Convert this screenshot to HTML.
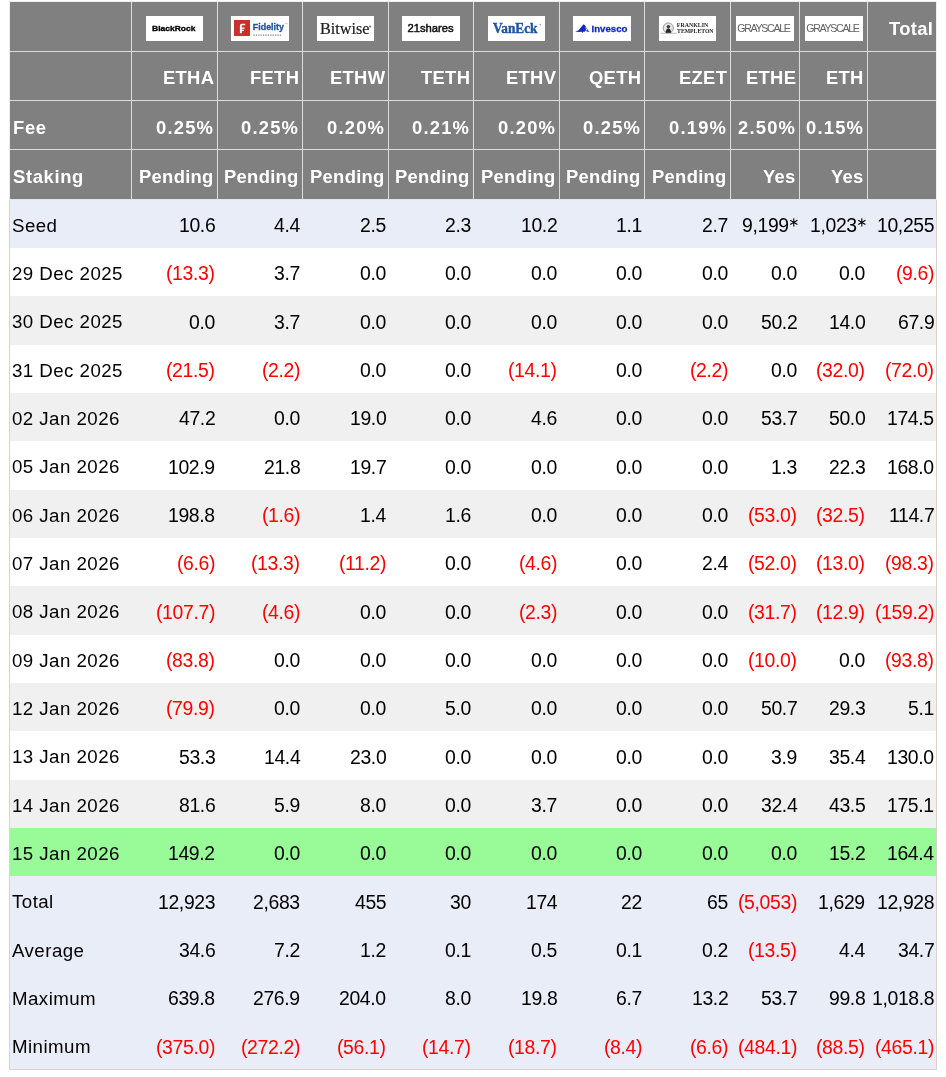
<!DOCTYPE html><html><head><meta charset="utf-8"><style>
html,body{margin:0;padding:0;background:#fff;width:946px;height:1077px;overflow:hidden;}
body{position:relative;font-family:"Liberation Sans",sans-serif;}
.t,.lg{will-change:transform;}
.r{position:absolute;}
.t{position:absolute;white-space:nowrap;}
.b{font-size:18.7px;color:#000;}
.lb{letter-spacing:0.45px;}
.n{color:#f00;}
.nm{font-size:19.4px;letter-spacing:-0.35px;}
.ast{display:inline-block;position:relative;width:7.6px;height:0;margin-left:1px;}
.ast svg{position:absolute;left:0;top:-13.8px;}
.h{font-size:18.4px;color:#fff;font-weight:bold;letter-spacing:0.3px;}
.pc{letter-spacing:1.2px;}
.hl{letter-spacing:0.65px;}
.lg{position:absolute;background:#fff;overflow:hidden;}
.lg svg{position:absolute;left:0;top:0;}
</style></head><body>
<div class="r" style="left:9px;top:1px;width:928px;height:1069px;background:#d9d4c7"></div>
<div class="r" style="left:9px;top:1px;width:928px;height:199px;background:#eeeeee"></div>
<div class="r" style="left:10px;top:2px;width:926px;height:197px;background:#808080"></div>
<div class="r" style="left:10px;top:51px;width:926px;height:1px;background:#dcdcdc"></div>
<div class="r" style="left:10px;top:100px;width:926px;height:1px;background:#dcdcdc"></div>
<div class="r" style="left:10px;top:149px;width:926px;height:1px;background:#dcdcdc"></div>
<div class="r" style="left:10px;top:199px;width:926px;height:1px;background:#e4e4e4"></div>
<div class="r" style="left:131px;top:2px;width:1px;height:197px;background:#dcdcdc"></div>
<div class="r" style="left:217px;top:2px;width:1px;height:197px;background:#dcdcdc"></div>
<div class="r" style="left:302px;top:2px;width:1px;height:197px;background:#dcdcdc"></div>
<div class="r" style="left:388px;top:2px;width:1px;height:197px;background:#dcdcdc"></div>
<div class="r" style="left:473px;top:2px;width:1px;height:197px;background:#dcdcdc"></div>
<div class="r" style="left:559px;top:2px;width:1px;height:197px;background:#dcdcdc"></div>
<div class="r" style="left:644px;top:2px;width:1px;height:197px;background:#dcdcdc"></div>
<div class="r" style="left:730px;top:2px;width:1px;height:197px;background:#dcdcdc"></div>
<div class="r" style="left:799px;top:2px;width:1px;height:197px;background:#dcdcdc"></div>
<div class="r" style="left:867px;top:2px;width:1px;height:197px;background:#dcdcdc"></div>
<div class="r" style="left:10px;top:200px;width:926px;height:48px;background:#e9edf8"></div>
<div class="r" style="left:10px;top:248px;width:926px;height:48px;background:#ffffff"></div>
<div class="r" style="left:10px;top:296px;width:926px;height:49px;background:#f0f0f0"></div>
<div class="r" style="left:10px;top:345px;width:926px;height:48px;background:#ffffff"></div>
<div class="r" style="left:10px;top:393px;width:926px;height:48px;background:#f0f0f0"></div>
<div class="r" style="left:10px;top:441px;width:926px;height:49px;background:#ffffff"></div>
<div class="r" style="left:10px;top:490px;width:926px;height:48px;background:#f0f0f0"></div>
<div class="r" style="left:10px;top:538px;width:926px;height:48px;background:#ffffff"></div>
<div class="r" style="left:10px;top:586px;width:926px;height:49px;background:#f0f0f0"></div>
<div class="r" style="left:10px;top:635px;width:926px;height:48px;background:#ffffff"></div>
<div class="r" style="left:10px;top:683px;width:926px;height:48px;background:#f0f0f0"></div>
<div class="r" style="left:10px;top:731px;width:926px;height:49px;background:#ffffff"></div>
<div class="r" style="left:10px;top:780px;width:926px;height:48px;background:#f0f0f0"></div>
<div class="r" style="left:10px;top:828px;width:926px;height:48px;background:#99fb98"></div>
<div class="r" style="left:10px;top:876px;width:926px;height:48px;background:#e9edf8"></div>
<div class="r" style="left:10px;top:924px;width:926px;height:48px;background:#e9edf8"></div>
<div class="r" style="left:10px;top:972px;width:926px;height:49px;background:#e9edf8"></div>
<div class="r" style="left:10px;top:1021px;width:926px;height:48px;background:#e9edf8"></div>
<div class="t h" style="right:732.00px;top:53.80px;height:48px;line-height:48px;">ETHA</div>
<div class="t h" style="right:647.00px;top:53.80px;height:48px;line-height:48px;">FETH</div>
<div class="t h" style="right:561.00px;top:53.80px;height:48px;line-height:48px;">ETHW</div>
<div class="t h" style="right:476.00px;top:53.80px;height:48px;line-height:48px;">TETH</div>
<div class="t h" style="right:390.00px;top:53.80px;height:48px;line-height:48px;">ETHV</div>
<div class="t h" style="right:305.00px;top:53.80px;height:48px;line-height:48px;">QETH</div>
<div class="t h" style="right:219.00px;top:53.80px;height:48px;line-height:48px;">EZET</div>
<div class="t h" style="right:150.00px;top:53.80px;height:48px;line-height:48px;">ETHE</div>
<div class="t h" style="right:82.00px;top:53.80px;height:48px;line-height:48px;">ETH</div>
<div class="t h hl" style="left:12.80px;top:103.80px;height:48px;line-height:48px;">Fee</div>
<div class="t h pc" style="right:731.90px;top:103.80px;height:48px;line-height:48px;">0.25%</div>
<div class="t h pc" style="right:646.90px;top:103.80px;height:48px;line-height:48px;">0.25%</div>
<div class="t h pc" style="right:560.90px;top:103.80px;height:48px;line-height:48px;">0.20%</div>
<div class="t h pc" style="right:475.90px;top:103.80px;height:48px;line-height:48px;">0.21%</div>
<div class="t h pc" style="right:389.90px;top:103.80px;height:48px;line-height:48px;">0.20%</div>
<div class="t h pc" style="right:304.90px;top:103.80px;height:48px;line-height:48px;">0.25%</div>
<div class="t h pc" style="right:218.90px;top:103.80px;height:48px;line-height:48px;">0.19%</div>
<div class="t h pc" style="right:149.90px;top:103.80px;height:48px;line-height:48px;">2.50%</div>
<div class="t h pc" style="right:81.90px;top:103.80px;height:48px;line-height:48px;">0.15%</div>
<div class="t h hl" style="left:12.80px;top:152.00px;height:49px;line-height:49px;">Staking</div>
<div class="t h" style="right:732.00px;top:152.00px;height:49px;line-height:49px;">Pending</div>
<div class="t h" style="right:647.00px;top:152.00px;height:49px;line-height:49px;">Pending</div>
<div class="t h" style="right:561.00px;top:152.00px;height:49px;line-height:49px;">Pending</div>
<div class="t h" style="right:476.00px;top:152.00px;height:49px;line-height:49px;">Pending</div>
<div class="t h" style="right:390.00px;top:152.00px;height:49px;line-height:49px;">Pending</div>
<div class="t h" style="right:305.00px;top:152.00px;height:49px;line-height:49px;">Pending</div>
<div class="t h" style="right:219.00px;top:152.00px;height:49px;line-height:49px;">Pending</div>
<div class="t h" style="right:150.00px;top:152.00px;height:49px;line-height:49px;">Yes</div>
<div class="t h" style="right:82.00px;top:152.00px;height:49px;line-height:49px;">Yes</div>
<div class="t h" style="right:12.80px;top:4.00px;height:49px;line-height:49px;">Total</div>
<div class="t b lb" style="left:11.90px;top:201.80px;height:48px;line-height:48px;">Seed</div>
<div class="t b nm" style="right:731.10px;top:201.00px;height:48px;line-height:48px;">10.6</div>
<div class="t b nm" style="right:646.10px;top:201.00px;height:48px;line-height:48px;">4.4</div>
<div class="t b nm" style="right:560.10px;top:201.00px;height:48px;line-height:48px;">2.5</div>
<div class="t b nm" style="right:475.10px;top:201.00px;height:48px;line-height:48px;">2.3</div>
<div class="t b nm" style="right:389.10px;top:201.00px;height:48px;line-height:48px;">10.2</div>
<div class="t b nm" style="right:304.10px;top:201.00px;height:48px;line-height:48px;">1.1</div>
<div class="t b nm" style="right:218.10px;top:201.00px;height:48px;line-height:48px;">2.7</div>
<div class="t b nm" style="right:149.10px;top:201.00px;height:48px;line-height:48px;">9,199<span class="ast"><svg width="8" height="9" viewBox="0 0 8 9"><path d="M3.8 0.2V8.6M0.15 2.3L7.45 6.5M0.15 6.5L7.45 2.3" stroke="#000" stroke-width="1.05"/></svg></span></div>
<div class="t b nm" style="right:81.10px;top:201.00px;height:48px;line-height:48px;">1,023<span class="ast"><svg width="8" height="9" viewBox="0 0 8 9"><path d="M3.8 0.2V8.6M0.15 2.3L7.45 6.5M0.15 6.5L7.45 2.3" stroke="#000" stroke-width="1.05"/></svg></span></div>
<div class="t b nm" style="right:12.10px;top:201.00px;height:48px;line-height:48px;">10,255</div>
<div class="t b lb" style="left:11.90px;top:250.13px;height:48px;line-height:48px;">29 Dec 2025</div>
<div class="t b nm n" style="right:731.10px;top:249.33px;height:48px;line-height:48px;">(13.3)</div>
<div class="t b nm" style="right:646.10px;top:249.33px;height:48px;line-height:48px;">3.7</div>
<div class="t b nm" style="right:560.10px;top:249.33px;height:48px;line-height:48px;">0.0</div>
<div class="t b nm" style="right:475.10px;top:249.33px;height:48px;line-height:48px;">0.0</div>
<div class="t b nm" style="right:389.10px;top:249.33px;height:48px;line-height:48px;">0.0</div>
<div class="t b nm" style="right:304.10px;top:249.33px;height:48px;line-height:48px;">0.0</div>
<div class="t b nm" style="right:218.10px;top:249.33px;height:48px;line-height:48px;">0.0</div>
<div class="t b nm" style="right:149.10px;top:249.33px;height:48px;line-height:48px;">0.0</div>
<div class="t b nm" style="right:81.10px;top:249.33px;height:48px;line-height:48px;">0.0</div>
<div class="t b nm n" style="right:12.10px;top:249.33px;height:48px;line-height:48px;">(9.6)</div>
<div class="t b lb" style="left:11.90px;top:298.47px;height:48px;line-height:48px;">30 Dec 2025</div>
<div class="t b nm" style="right:731.10px;top:297.67px;height:48px;line-height:48px;">0.0</div>
<div class="t b nm" style="right:646.10px;top:297.67px;height:48px;line-height:48px;">3.7</div>
<div class="t b nm" style="right:560.10px;top:297.67px;height:48px;line-height:48px;">0.0</div>
<div class="t b nm" style="right:475.10px;top:297.67px;height:48px;line-height:48px;">0.0</div>
<div class="t b nm" style="right:389.10px;top:297.67px;height:48px;line-height:48px;">0.0</div>
<div class="t b nm" style="right:304.10px;top:297.67px;height:48px;line-height:48px;">0.0</div>
<div class="t b nm" style="right:218.10px;top:297.67px;height:48px;line-height:48px;">0.0</div>
<div class="t b nm" style="right:149.10px;top:297.67px;height:48px;line-height:48px;">50.2</div>
<div class="t b nm" style="right:81.10px;top:297.67px;height:48px;line-height:48px;">14.0</div>
<div class="t b nm" style="right:12.10px;top:297.67px;height:48px;line-height:48px;">67.9</div>
<div class="t b lb" style="left:11.90px;top:346.80px;height:48px;line-height:48px;">31 Dec 2025</div>
<div class="t b nm n" style="right:731.10px;top:346.00px;height:48px;line-height:48px;">(21.5)</div>
<div class="t b nm n" style="right:646.10px;top:346.00px;height:48px;line-height:48px;">(2.2)</div>
<div class="t b nm" style="right:560.10px;top:346.00px;height:48px;line-height:48px;">0.0</div>
<div class="t b nm" style="right:475.10px;top:346.00px;height:48px;line-height:48px;">0.0</div>
<div class="t b nm n" style="right:389.10px;top:346.00px;height:48px;line-height:48px;">(14.1)</div>
<div class="t b nm" style="right:304.10px;top:346.00px;height:48px;line-height:48px;">0.0</div>
<div class="t b nm n" style="right:218.10px;top:346.00px;height:48px;line-height:48px;">(2.2)</div>
<div class="t b nm" style="right:149.10px;top:346.00px;height:48px;line-height:48px;">0.0</div>
<div class="t b nm n" style="right:81.10px;top:346.00px;height:48px;line-height:48px;">(32.0)</div>
<div class="t b nm n" style="right:12.10px;top:346.00px;height:48px;line-height:48px;">(72.0)</div>
<div class="t b lb" style="left:11.90px;top:395.13px;height:48px;line-height:48px;">02 Jan 2026</div>
<div class="t b nm" style="right:731.10px;top:394.33px;height:48px;line-height:48px;">47.2</div>
<div class="t b nm" style="right:646.10px;top:394.33px;height:48px;line-height:48px;">0.0</div>
<div class="t b nm" style="right:560.10px;top:394.33px;height:48px;line-height:48px;">19.0</div>
<div class="t b nm" style="right:475.10px;top:394.33px;height:48px;line-height:48px;">0.0</div>
<div class="t b nm" style="right:389.10px;top:394.33px;height:48px;line-height:48px;">4.6</div>
<div class="t b nm" style="right:304.10px;top:394.33px;height:48px;line-height:48px;">0.0</div>
<div class="t b nm" style="right:218.10px;top:394.33px;height:48px;line-height:48px;">0.0</div>
<div class="t b nm" style="right:149.10px;top:394.33px;height:48px;line-height:48px;">53.7</div>
<div class="t b nm" style="right:81.10px;top:394.33px;height:48px;line-height:48px;">50.0</div>
<div class="t b nm" style="right:12.10px;top:394.33px;height:48px;line-height:48px;">174.5</div>
<div class="t b lb" style="left:11.90px;top:443.47px;height:48px;line-height:48px;">05 Jan 2026</div>
<div class="t b nm" style="right:731.10px;top:442.67px;height:48px;line-height:48px;">102.9</div>
<div class="t b nm" style="right:646.10px;top:442.67px;height:48px;line-height:48px;">21.8</div>
<div class="t b nm" style="right:560.10px;top:442.67px;height:48px;line-height:48px;">19.7</div>
<div class="t b nm" style="right:475.10px;top:442.67px;height:48px;line-height:48px;">0.0</div>
<div class="t b nm" style="right:389.10px;top:442.67px;height:48px;line-height:48px;">0.0</div>
<div class="t b nm" style="right:304.10px;top:442.67px;height:48px;line-height:48px;">0.0</div>
<div class="t b nm" style="right:218.10px;top:442.67px;height:48px;line-height:48px;">0.0</div>
<div class="t b nm" style="right:149.10px;top:442.67px;height:48px;line-height:48px;">1.3</div>
<div class="t b nm" style="right:81.10px;top:442.67px;height:48px;line-height:48px;">22.3</div>
<div class="t b nm" style="right:12.10px;top:442.67px;height:48px;line-height:48px;">168.0</div>
<div class="t b lb" style="left:11.90px;top:491.80px;height:48px;line-height:48px;">06 Jan 2026</div>
<div class="t b nm" style="right:731.10px;top:491.00px;height:48px;line-height:48px;">198.8</div>
<div class="t b nm n" style="right:646.10px;top:491.00px;height:48px;line-height:48px;">(1.6)</div>
<div class="t b nm" style="right:560.10px;top:491.00px;height:48px;line-height:48px;">1.4</div>
<div class="t b nm" style="right:475.10px;top:491.00px;height:48px;line-height:48px;">1.6</div>
<div class="t b nm" style="right:389.10px;top:491.00px;height:48px;line-height:48px;">0.0</div>
<div class="t b nm" style="right:304.10px;top:491.00px;height:48px;line-height:48px;">0.0</div>
<div class="t b nm" style="right:218.10px;top:491.00px;height:48px;line-height:48px;">0.0</div>
<div class="t b nm n" style="right:149.10px;top:491.00px;height:48px;line-height:48px;">(53.0)</div>
<div class="t b nm n" style="right:81.10px;top:491.00px;height:48px;line-height:48px;">(32.5)</div>
<div class="t b nm" style="right:12.10px;top:491.00px;height:48px;line-height:48px;">114.7</div>
<div class="t b lb" style="left:11.90px;top:540.13px;height:48px;line-height:48px;">07 Jan 2026</div>
<div class="t b nm n" style="right:731.10px;top:539.33px;height:48px;line-height:48px;">(6.6)</div>
<div class="t b nm n" style="right:646.10px;top:539.33px;height:48px;line-height:48px;">(13.3)</div>
<div class="t b nm n" style="right:560.10px;top:539.33px;height:48px;line-height:48px;">(11.2)</div>
<div class="t b nm" style="right:475.10px;top:539.33px;height:48px;line-height:48px;">0.0</div>
<div class="t b nm n" style="right:389.10px;top:539.33px;height:48px;line-height:48px;">(4.6)</div>
<div class="t b nm" style="right:304.10px;top:539.33px;height:48px;line-height:48px;">0.0</div>
<div class="t b nm" style="right:218.10px;top:539.33px;height:48px;line-height:48px;">2.4</div>
<div class="t b nm n" style="right:149.10px;top:539.33px;height:48px;line-height:48px;">(52.0)</div>
<div class="t b nm n" style="right:81.10px;top:539.33px;height:48px;line-height:48px;">(13.0)</div>
<div class="t b nm n" style="right:12.10px;top:539.33px;height:48px;line-height:48px;">(98.3)</div>
<div class="t b lb" style="left:11.90px;top:588.46px;height:48px;line-height:48px;">08 Jan 2026</div>
<div class="t b nm n" style="right:731.10px;top:587.66px;height:48px;line-height:48px;">(107.7)</div>
<div class="t b nm n" style="right:646.10px;top:587.66px;height:48px;line-height:48px;">(4.6)</div>
<div class="t b nm" style="right:560.10px;top:587.66px;height:48px;line-height:48px;">0.0</div>
<div class="t b nm" style="right:475.10px;top:587.66px;height:48px;line-height:48px;">0.0</div>
<div class="t b nm n" style="right:389.10px;top:587.66px;height:48px;line-height:48px;">(2.3)</div>
<div class="t b nm" style="right:304.10px;top:587.66px;height:48px;line-height:48px;">0.0</div>
<div class="t b nm" style="right:218.10px;top:587.66px;height:48px;line-height:48px;">0.0</div>
<div class="t b nm n" style="right:149.10px;top:587.66px;height:48px;line-height:48px;">(31.7)</div>
<div class="t b nm n" style="right:81.10px;top:587.66px;height:48px;line-height:48px;">(12.9)</div>
<div class="t b nm n" style="right:12.10px;top:587.66px;height:48px;line-height:48px;">(159.2)</div>
<div class="t b lb" style="left:11.90px;top:636.80px;height:48px;line-height:48px;">09 Jan 2026</div>
<div class="t b nm n" style="right:731.10px;top:636.00px;height:48px;line-height:48px;">(83.8)</div>
<div class="t b nm" style="right:646.10px;top:636.00px;height:48px;line-height:48px;">0.0</div>
<div class="t b nm" style="right:560.10px;top:636.00px;height:48px;line-height:48px;">0.0</div>
<div class="t b nm" style="right:475.10px;top:636.00px;height:48px;line-height:48px;">0.0</div>
<div class="t b nm" style="right:389.10px;top:636.00px;height:48px;line-height:48px;">0.0</div>
<div class="t b nm" style="right:304.10px;top:636.00px;height:48px;line-height:48px;">0.0</div>
<div class="t b nm" style="right:218.10px;top:636.00px;height:48px;line-height:48px;">0.0</div>
<div class="t b nm n" style="right:149.10px;top:636.00px;height:48px;line-height:48px;">(10.0)</div>
<div class="t b nm" style="right:81.10px;top:636.00px;height:48px;line-height:48px;">0.0</div>
<div class="t b nm n" style="right:12.10px;top:636.00px;height:48px;line-height:48px;">(93.8)</div>
<div class="t b lb" style="left:11.90px;top:685.13px;height:48px;line-height:48px;">12 Jan 2026</div>
<div class="t b nm n" style="right:731.10px;top:684.33px;height:48px;line-height:48px;">(79.9)</div>
<div class="t b nm" style="right:646.10px;top:684.33px;height:48px;line-height:48px;">0.0</div>
<div class="t b nm" style="right:560.10px;top:684.33px;height:48px;line-height:48px;">0.0</div>
<div class="t b nm" style="right:475.10px;top:684.33px;height:48px;line-height:48px;">5.0</div>
<div class="t b nm" style="right:389.10px;top:684.33px;height:48px;line-height:48px;">0.0</div>
<div class="t b nm" style="right:304.10px;top:684.33px;height:48px;line-height:48px;">0.0</div>
<div class="t b nm" style="right:218.10px;top:684.33px;height:48px;line-height:48px;">0.0</div>
<div class="t b nm" style="right:149.10px;top:684.33px;height:48px;line-height:48px;">50.7</div>
<div class="t b nm" style="right:81.10px;top:684.33px;height:48px;line-height:48px;">29.3</div>
<div class="t b nm" style="right:12.10px;top:684.33px;height:48px;line-height:48px;">5.1</div>
<div class="t b lb" style="left:11.90px;top:733.46px;height:48px;line-height:48px;">13 Jan 2026</div>
<div class="t b nm" style="right:731.10px;top:732.66px;height:48px;line-height:48px;">53.3</div>
<div class="t b nm" style="right:646.10px;top:732.66px;height:48px;line-height:48px;">14.4</div>
<div class="t b nm" style="right:560.10px;top:732.66px;height:48px;line-height:48px;">23.0</div>
<div class="t b nm" style="right:475.10px;top:732.66px;height:48px;line-height:48px;">0.0</div>
<div class="t b nm" style="right:389.10px;top:732.66px;height:48px;line-height:48px;">0.0</div>
<div class="t b nm" style="right:304.10px;top:732.66px;height:48px;line-height:48px;">0.0</div>
<div class="t b nm" style="right:218.10px;top:732.66px;height:48px;line-height:48px;">0.0</div>
<div class="t b nm" style="right:149.10px;top:732.66px;height:48px;line-height:48px;">3.9</div>
<div class="t b nm" style="right:81.10px;top:732.66px;height:48px;line-height:48px;">35.4</div>
<div class="t b nm" style="right:12.10px;top:732.66px;height:48px;line-height:48px;">130.0</div>
<div class="t b lb" style="left:11.90px;top:781.80px;height:48px;line-height:48px;">14 Jan 2026</div>
<div class="t b nm" style="right:731.10px;top:781.00px;height:48px;line-height:48px;">81.6</div>
<div class="t b nm" style="right:646.10px;top:781.00px;height:48px;line-height:48px;">5.9</div>
<div class="t b nm" style="right:560.10px;top:781.00px;height:48px;line-height:48px;">8.0</div>
<div class="t b nm" style="right:475.10px;top:781.00px;height:48px;line-height:48px;">0.0</div>
<div class="t b nm" style="right:389.10px;top:781.00px;height:48px;line-height:48px;">3.7</div>
<div class="t b nm" style="right:304.10px;top:781.00px;height:48px;line-height:48px;">0.0</div>
<div class="t b nm" style="right:218.10px;top:781.00px;height:48px;line-height:48px;">0.0</div>
<div class="t b nm" style="right:149.10px;top:781.00px;height:48px;line-height:48px;">32.4</div>
<div class="t b nm" style="right:81.10px;top:781.00px;height:48px;line-height:48px;">43.5</div>
<div class="t b nm" style="right:12.10px;top:781.00px;height:48px;line-height:48px;">175.1</div>
<div class="t b lb" style="left:11.90px;top:830.13px;height:48px;line-height:48px;">15 Jan 2026</div>
<div class="t b nm" style="right:731.10px;top:829.33px;height:48px;line-height:48px;">149.2</div>
<div class="t b nm" style="right:646.10px;top:829.33px;height:48px;line-height:48px;">0.0</div>
<div class="t b nm" style="right:560.10px;top:829.33px;height:48px;line-height:48px;">0.0</div>
<div class="t b nm" style="right:475.10px;top:829.33px;height:48px;line-height:48px;">0.0</div>
<div class="t b nm" style="right:389.10px;top:829.33px;height:48px;line-height:48px;">0.0</div>
<div class="t b nm" style="right:304.10px;top:829.33px;height:48px;line-height:48px;">0.0</div>
<div class="t b nm" style="right:218.10px;top:829.33px;height:48px;line-height:48px;">0.0</div>
<div class="t b nm" style="right:149.10px;top:829.33px;height:48px;line-height:48px;">0.0</div>
<div class="t b nm" style="right:81.10px;top:829.33px;height:48px;line-height:48px;">15.2</div>
<div class="t b nm" style="right:12.10px;top:829.33px;height:48px;line-height:48px;">164.4</div>
<div class="t b lb" style="left:11.90px;top:878.46px;height:48px;line-height:48px;">Total</div>
<div class="t b nm" style="right:731.10px;top:877.66px;height:48px;line-height:48px;">12,923</div>
<div class="t b nm" style="right:646.10px;top:877.66px;height:48px;line-height:48px;">2,683</div>
<div class="t b nm" style="right:560.10px;top:877.66px;height:48px;line-height:48px;">455</div>
<div class="t b nm" style="right:475.10px;top:877.66px;height:48px;line-height:48px;">30</div>
<div class="t b nm" style="right:389.10px;top:877.66px;height:48px;line-height:48px;">174</div>
<div class="t b nm" style="right:304.10px;top:877.66px;height:48px;line-height:48px;">22</div>
<div class="t b nm" style="right:218.10px;top:877.66px;height:48px;line-height:48px;">65</div>
<div class="t b nm n" style="right:149.10px;top:877.66px;height:48px;line-height:48px;">(5,053)</div>
<div class="t b nm" style="right:81.10px;top:877.66px;height:48px;line-height:48px;">1,629</div>
<div class="t b nm" style="right:12.10px;top:877.66px;height:48px;line-height:48px;">12,928</div>
<div class="t b lb" style="left:11.90px;top:926.80px;height:48px;line-height:48px;">Average</div>
<div class="t b nm" style="right:731.10px;top:926.00px;height:48px;line-height:48px;">34.6</div>
<div class="t b nm" style="right:646.10px;top:926.00px;height:48px;line-height:48px;">7.2</div>
<div class="t b nm" style="right:560.10px;top:926.00px;height:48px;line-height:48px;">1.2</div>
<div class="t b nm" style="right:475.10px;top:926.00px;height:48px;line-height:48px;">0.1</div>
<div class="t b nm" style="right:389.10px;top:926.00px;height:48px;line-height:48px;">0.5</div>
<div class="t b nm" style="right:304.10px;top:926.00px;height:48px;line-height:48px;">0.1</div>
<div class="t b nm" style="right:218.10px;top:926.00px;height:48px;line-height:48px;">0.2</div>
<div class="t b nm n" style="right:149.10px;top:926.00px;height:48px;line-height:48px;">(13.5)</div>
<div class="t b nm" style="right:81.10px;top:926.00px;height:48px;line-height:48px;">4.4</div>
<div class="t b nm" style="right:12.10px;top:926.00px;height:48px;line-height:48px;">34.7</div>
<div class="t b lb" style="left:11.90px;top:975.13px;height:48px;line-height:48px;">Maximum</div>
<div class="t b nm" style="right:731.10px;top:974.33px;height:48px;line-height:48px;">639.8</div>
<div class="t b nm" style="right:646.10px;top:974.33px;height:48px;line-height:48px;">276.9</div>
<div class="t b nm" style="right:560.10px;top:974.33px;height:48px;line-height:48px;">204.0</div>
<div class="t b nm" style="right:475.10px;top:974.33px;height:48px;line-height:48px;">8.0</div>
<div class="t b nm" style="right:389.10px;top:974.33px;height:48px;line-height:48px;">19.8</div>
<div class="t b nm" style="right:304.10px;top:974.33px;height:48px;line-height:48px;">6.7</div>
<div class="t b nm" style="right:218.10px;top:974.33px;height:48px;line-height:48px;">13.2</div>
<div class="t b nm" style="right:149.10px;top:974.33px;height:48px;line-height:48px;">53.7</div>
<div class="t b nm" style="right:81.10px;top:974.33px;height:48px;line-height:48px;">99.8</div>
<div class="t b nm" style="right:12.10px;top:974.33px;height:48px;line-height:48px;">1,018.8</div>
<div class="t b lb" style="left:11.90px;top:1023.46px;height:48px;line-height:48px;">Minimum</div>
<div class="t b nm n" style="right:731.10px;top:1022.66px;height:48px;line-height:48px;">(375.0)</div>
<div class="t b nm n" style="right:646.10px;top:1022.66px;height:48px;line-height:48px;">(272.2)</div>
<div class="t b nm n" style="right:560.10px;top:1022.66px;height:48px;line-height:48px;">(56.1)</div>
<div class="t b nm n" style="right:475.10px;top:1022.66px;height:48px;line-height:48px;">(14.7)</div>
<div class="t b nm n" style="right:389.10px;top:1022.66px;height:48px;line-height:48px;">(18.7)</div>
<div class="t b nm n" style="right:304.10px;top:1022.66px;height:48px;line-height:48px;">(8.4)</div>
<div class="t b nm n" style="right:218.10px;top:1022.66px;height:48px;line-height:48px;">(6.6)</div>
<div class="t b nm n" style="right:149.10px;top:1022.66px;height:48px;line-height:48px;">(484.1)</div>
<div class="t b nm n" style="right:81.10px;top:1022.66px;height:48px;line-height:48px;">(88.5)</div>
<div class="t b nm n" style="right:12.10px;top:1022.66px;height:48px;line-height:48px;">(465.1)</div>
<div class="lg" style="left:146px;top:16px;width:57px;height:25px"><svg width="57" height="25" viewBox="0 0 57 25"><text x="6.1" y="14.8" font-family="Liberation Sans" font-weight="bold" font-size="8.1" textLength="43.4" lengthAdjust="spacingAndGlyphs" fill="#000" stroke="#000" stroke-width="0.35">BlackRock</text></svg></div>
<div class="lg" style="left:231px;top:16px;width:58px;height:25px"><svg width="58" height="25" viewBox="0 0 58 25"><rect x="3" y="4" width="16" height="16" fill="#c8302b"/><path d="M8.9 17.2 V9.8 Q8.9 7.8 11 7.8 H14.2 V9.3 H11.3 Q10.8 9.3 10.8 9.9 V11.4 H13.6 V12.8 H10.8 V13.7 H13 V15 H10.8 V17.2 Z" fill="#fff"/><text x="21.8" y="14.4" font-family="Liberation Sans" font-weight="bold" font-size="9.2" textLength="31.2" lengthAdjust="spacingAndGlyphs" fill="#1d55a0" stroke="#1d55a0" stroke-width="0.3">Fidelity</text><line x1="22.4" y1="19.1" x2="51" y2="19.1" stroke="#56607a" stroke-width="1.0" stroke-dasharray="1.3 1.1"/><text x="53.6" y="7.6" font-family="Liberation Sans" font-size="2.5" fill="#999">TM</text></svg></div>
<div class="lg" style="left:317px;top:16px;width:57px;height:25px"><svg width="57" height="25" viewBox="0 0 57 25"><text x="3.0" y="17.7" font-family="Liberation Serif" font-size="16" textLength="49.4" lengthAdjust="spacingAndGlyphs" fill="#1a1a1a" stroke="#1a1a1a" stroke-width="0.2">Bitwise</text><circle cx="53.2" cy="10.6" r="1.1" fill="#777"/></svg></div>
<div class="lg" style="left:402px;top:16px;width:58px;height:25px"><svg width="58" height="25" viewBox="0 0 58 25"><text x="5.5" y="15.8" font-family="Liberation Sans" font-size="11.4" textLength="46.2" lengthAdjust="spacingAndGlyphs" fill="#111" stroke="#111" stroke-width="0.5">21shares</text></svg></div>
<div class="lg" style="left:488px;top:16px;width:57px;height:25px"><svg width="57" height="25" viewBox="0 0 57 25"><text x="5.0" y="16.7" font-family="Liberation Serif" font-weight="bold" font-size="15.2" textLength="44.4" lengthAdjust="spacingAndGlyphs" fill="#1f55a0" stroke="#1f55a0" stroke-width="0.45">VanEck</text><circle cx="52.2" cy="8.6" r="0.9" fill="#aab"/></svg></div>
<div class="lg" style="left:573px;top:16px;width:58px;height:25px"><svg width="58" height="25" viewBox="0 0 58 25"><path d="M2.3 15.6 L5.6 14.3 L8.6 10.6 L10.6 8.2 L12.2 9.4 L13.4 11.8 L16.3 16 L13.8 15.4 L12.2 14.6 L11.4 16.2 L10.4 15.6 L9.6 17 L8.6 15.8 L6 15.9 Z" fill="#1428c8"/><path d="M12.2 10.6 L14.6 14.4 L13.2 14.6 Z" fill="#fff"/><text x="18.5" y="15.6" font-family="Liberation Sans" font-weight="bold" font-size="9.9" textLength="36.0" lengthAdjust="spacingAndGlyphs" fill="#1428c8" stroke="#1428c8" stroke-width="0.3">Invesco</text></svg></div>
<div class="lg" style="left:659px;top:16px;width:57px;height:25px"><svg width="57" height="25" viewBox="0 0 57 25"><circle cx="9.3" cy="12" r="5.1" fill="#e4e4e4" stroke="#8a8a8a" stroke-width="0.8"/><circle cx="9.4" cy="10.6" r="1.7" fill="#3a3a3a"/><path d="M6.6 17 Q6.8 12.6 9.4 12.2 Q12 12.6 12.2 17 Z" fill="#2a2a2a"/><rect x="1.8" y="16.8" width="16" height="0.8" fill="#aaa"/><text x="17.8" y="10.9" font-family="Liberation Serif" font-weight="bold" font-size="5.6" textLength="31.4" lengthAdjust="spacingAndGlyphs" fill="#222">FRANKLIN</text><text x="18.1" y="17.3" font-family="Liberation Serif" font-weight="bold" font-size="5.6" textLength="36.4" lengthAdjust="spacingAndGlyphs" fill="#222">TEMPLETON</text></svg></div>
<div class="lg" style="left:736px;top:16px;width:58px;height:25px"><svg width="58" height="25" viewBox="0 0 58 25"><text x="1.3" y="15.8" font-family="Liberation Sans" font-size="10.6" textLength="53.6" lengthAdjust="spacing" fill="#606060">GRAYSCALE</text></svg></div>
<div class="lg" style="left:805px;top:16px;width:58px;height:25px"><svg width="58" height="25" viewBox="0 0 58 25"><text x="1.3" y="15.8" font-family="Liberation Sans" font-size="10.6" textLength="53.6" lengthAdjust="spacing" fill="#606060">GRAYSCALE</text></svg></div>

</body></html>
